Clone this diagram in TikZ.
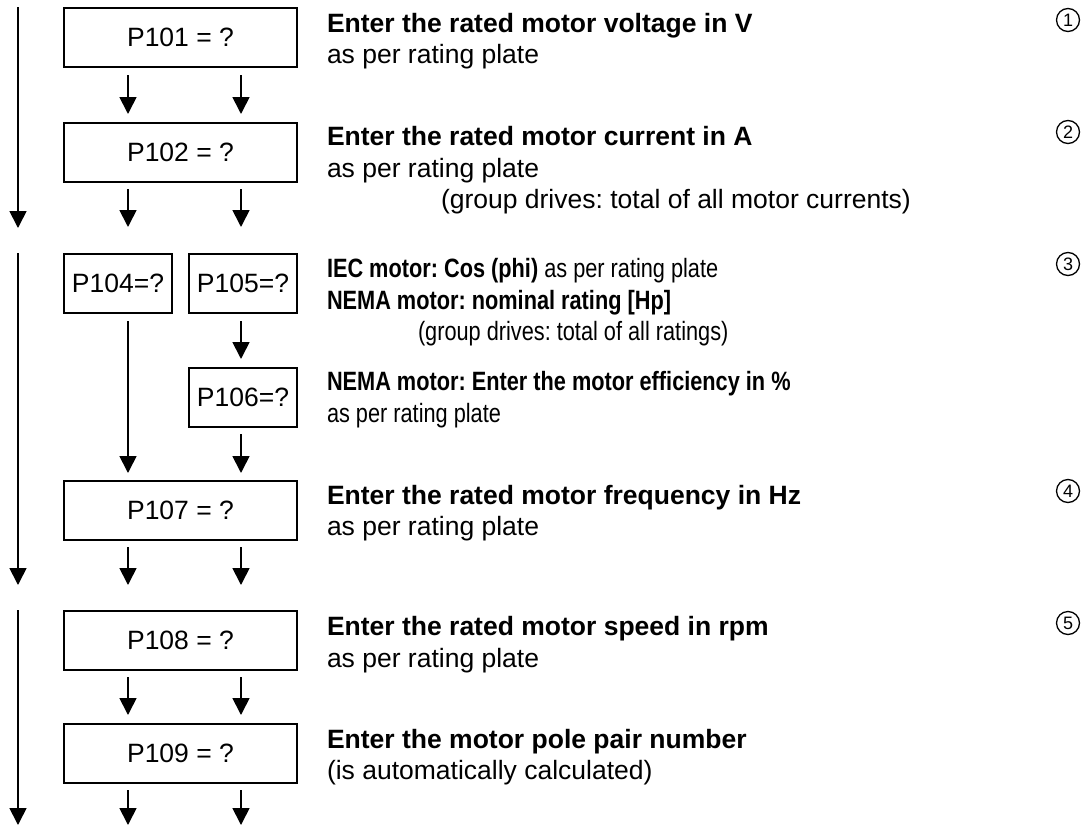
\documentclass[tikz,border=0pt]{standalone}
\usepackage{fontspec}
\setmainfont{Liberation Sans}
\newfontfamily\narrowfont{Liberation Sans}[FakeStretch=0.82]
\usetikzlibrary{arrows.meta}
\frenchspacing
\begin{document}
\frenchspacing
\begin{tikzpicture}[x=1pt,y=-1pt,
  every node/.style={inner sep=0pt, outer sep=0pt},
  pbox/.style={draw, line width=1.8pt, minimum height=59pt, anchor=north west,
    font=\fontsize{26.5}{30}\selectfont},
  widebox/.style={pbox, minimum width=233pt},
  smallbox/.style={pbox, minimum width=108pt},
  arr/.style={line width=1.7pt, -{Triangle[width=17pt,length=17pt]}},
  txt/.style={anchor=base west, font=\fontsize{26.5}{31}\selectfont\frenchspacing},
  ntxt/.style={anchor=base west, font=\narrowfont\fontsize{26.5}{31}\selectfont\frenchspacing},
  num/.style={draw, circle, line width=1.3pt, minimum size=23pt,
    font=\fontsize{18}{18}\selectfont}]
\useasboundingbox (0,0) rectangle (1087,827);

% column coordinates
\coordinate (cA) at (128,0);
\coordinate (cB) at (241,0);

% boxes
\node[widebox] (P101) at (64,8) {P101 = ?};
\node[widebox] (P102) at (64,123) {P102 = ?};
\node[smallbox] (P104) at (64,254) {P104=?};
\node[smallbox] (P105) at (189,254) {P105=?};
\node[smallbox] (P106) at (189,368) {P106=?};
\node[widebox] (P107) at (64,481) {P107 = ?};
\node[widebox] (P108) at (64,611) {P108 = ?};
\node[widebox] (P109) at (64,724) {P109 = ?};

% free ends
\coordinate (L1s) at (18,7);
\coordinate (L1e) at (18,228);
\coordinate (L2s) at (18,253);
\coordinate (L2e) at (18,585);
\coordinate (L3s) at (18,610);
\coordinate (L3e) at (18,825);
\coordinate (e1) at (0,227);
\coordinate (e2) at (0,585);
\coordinate (e3) at (0,825);

% left long arrows
\draw[arr] (L1s) -- (L1e);
\draw[arr] (L2s) -- (L2e);
\draw[arr] (L3s) -- (L3e);

% section 1
\draw[arr] ([yshift=-8pt]P101.south -| cA) -- ([yshift=9pt]P102.north -| cA);
\draw[arr] ([yshift=-8pt]P101.south -| cB) -- ([yshift=9pt]P102.north -| cB);
\draw[arr] ([yshift=-7pt]P102.south -| cA) -- (e1 -| cA);
\draw[arr] ([yshift=-7pt]P102.south -| cB) -- (e1 -| cB);

% section 2
\draw[arr] ([yshift=-8pt]P104.south -| cA) -- ([yshift=8pt]P107.north -| cA);
\draw[arr] ([yshift=-8pt]P105.south -| cB) -- ([yshift=9pt]P106.north -| cB);
\draw[arr] ([yshift=-7pt]P106.south -| cB) -- ([yshift=8pt]P107.north -| cB);
\draw[arr] ([yshift=-7pt]P107.south -| cA) -- (e2 -| cA);
\draw[arr] ([yshift=-7pt]P107.south -| cB) -- (e2 -| cB);

% section 3
\draw[arr] ([yshift=-7pt]P108.south -| cA) -- ([yshift=9pt]P109.north -| cA);
\draw[arr] ([yshift=-7pt]P108.south -| cB) -- ([yshift=9pt]P109.north -| cB);
\draw[arr] ([yshift=-7pt]P109.south -| cA) -- (e3 -| cA);
\draw[arr] ([yshift=-7pt]P109.south -| cB) -- (e3 -| cB);

% texts
\node[txt] (t1a) at (327,32) {\bfseries Enter the rated motor voltage in V};
\node[txt] (t1b) at (327,63) {as per rating plate};
\node[txt] (t2a) at (327,145) {\bfseries Enter the rated motor current in A};
\node[txt] (t2b) at (327,177) {as per rating plate};
\node[txt] (t2c) at (441,208) {(group drives: total of all motor currents)};
\node[ntxt] (t3a) at (327,277) {\textbf{IEC motor: Cos (phi)} as per rating plate};
\node[ntxt] (t3b) at (327,309) {\bfseries NEMA motor: nominal rating [Hp]};
\node[ntxt] (t3c) at (418,340) {(group drives: total of all ratings)};
\node[ntxt] (t3d) at (327,390) {\bfseries NEMA motor: Enter the motor efficiency in \%};
\node[ntxt] (t3e) at (327,422) {as per rating plate};
\node[txt] (t4a) at (327,504) {\bfseries Enter the rated motor frequency in Hz};
\node[txt] (t4b) at (327,535) {as per rating plate};
\node[txt] (t5a) at (327,635) {\bfseries Enter the rated motor speed in rpm};
\node[txt] (t5b) at (327,667) {as per rating plate};
\node[txt] (t6a) at (327,748) {\bfseries Enter the motor pole pair number};
\node[txt] (t6b) at (327,779) {(is automatically calculated)};

% circled numbers
\node[num] (n1) at (1068,20) {1};
\node[num] (n2) at (1068,132) {2};
\node[num] (n3) at (1068,264) {3};
\node[num] (n4) at (1068,491) {4};
\node[num] (n5) at (1068,623) {5};
\end{tikzpicture}
\end{document}
